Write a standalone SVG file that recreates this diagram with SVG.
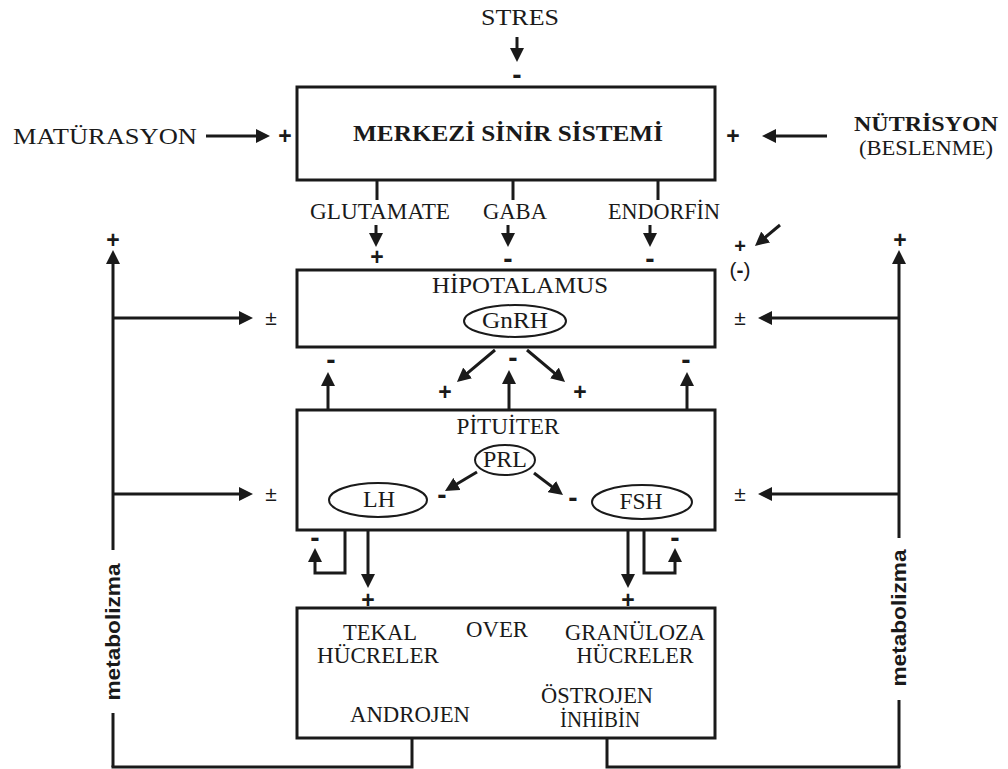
<svg xmlns="http://www.w3.org/2000/svg" width="1008" height="769" viewBox="0 0 1008 769">
<style>
.box{fill:none;stroke:#1a1a1a;stroke-width:3}
.ell{fill:none;stroke:#1a1a1a;stroke-width:2}
.ln{fill:none;stroke:#1a1a1a;stroke-width:3}
.ar{marker-end:url(#ah)}
.t{font-family:"Liberation Serif","Times New Roman",serif;font-size:23px;fill:#1a1a1a;text-anchor:middle}
.tb{font-weight:bold;font-size:24px}
.s{font-family:"Liberation Sans",Arial,sans-serif;font-weight:bold;font-size:23px;fill:#1a1a1a;text-anchor:middle}
.m{font-family:"Liberation Sans",Arial,sans-serif;font-weight:bold;font-size:28px;fill:#1a1a1a;text-anchor:middle}
.pm{font-family:"Liberation Sans",Arial,sans-serif;font-size:21px;fill:#1a1a1a;text-anchor:middle}
.meta{font-family:"Liberation Sans",Arial,sans-serif;font-weight:bold;font-size:21px;fill:#1a1a1a;text-anchor:middle}
</style>
<defs>
<marker id="ah" markerWidth="14" markerHeight="14" refX="10" refY="7" orient="auto" markerUnits="userSpaceOnUse"><path d="M0,0 L14,7 L0,14 z" fill="#1a1a1a"/></marker>
</defs>
<rect width="1008" height="769" fill="#ffffff"/>

<g id="stres">
<text class="t" x="520" y="25" textLength="78" lengthAdjust="spacingAndGlyphs">STRES</text>
</g>
<g id="maturasyon">
<text class="t" x="13" y="144" style="text-anchor:start" textLength="184" lengthAdjust="spacingAndGlyphs">MATÜRASYON</text>
</g>
<g id="nutrisyon">
<text class="t tb" x="926" y="131" style="font-size:22px" textLength="144" lengthAdjust="spacingAndGlyphs">NÜTRİSYON</text>
<text class="t" x="926" y="155" style="font-size:21px" textLength="134" lengthAdjust="spacingAndGlyphs">(BESLENME)</text>
</g>

<g id="mss">
<rect class="box" x="297" y="87" width="418" height="93"/>
<text class="t tb" x="508" y="141" textLength="310" lengthAdjust="spacingAndGlyphs">MERKEZİ SİNİR SİSTEMİ</text>
</g>

<g id="hipotalamus">
<rect class="box" x="297" y="270" width="418" height="77"/>
<text class="t" x="520" y="293" textLength="176" lengthAdjust="spacingAndGlyphs">HİPOTALAMUS</text>
<ellipse class="ell" cx="515" cy="321" rx="51" ry="16"/>
<text class="t" x="515" y="328" textLength="66" lengthAdjust="spacingAndGlyphs">GnRH</text>
</g>

<g id="pituiter">
<rect class="box" x="297" y="410" width="418" height="120"/>
<text class="t" x="508" y="434" textLength="103" lengthAdjust="spacingAndGlyphs">PİTUİTER</text>
<ellipse class="ell" cx="505" cy="460" rx="30" ry="15"/>
<text class="t" x="505" y="467" textLength="44" lengthAdjust="spacingAndGlyphs">PRL</text>
<ellipse class="ell" cx="378" cy="500" rx="49" ry="17"/>
<text class="t" x="379" y="507" textLength="32" lengthAdjust="spacingAndGlyphs">LH</text>
<ellipse class="ell" cx="642" cy="502" rx="50" ry="17"/>
<text class="t" x="641" y="509" textLength="43" lengthAdjust="spacingAndGlyphs">FSH</text>
</g>

<g id="over">
<rect class="box" x="297" y="608" width="418" height="130"/>
<text class="t" x="380" y="640" textLength="74" lengthAdjust="spacingAndGlyphs">TEKAL</text>
<text class="t" x="378" y="663" textLength="122" lengthAdjust="spacingAndGlyphs">HÜCRELER</text>
<text class="t" x="497" y="637" textLength="62" lengthAdjust="spacingAndGlyphs">OVER</text>
<text class="t" x="635" y="640" textLength="140" lengthAdjust="spacingAndGlyphs">GRANÜLOZA</text>
<text class="t" x="635" y="663" textLength="117" lengthAdjust="spacingAndGlyphs">HÜCRELER</text>
<text class="t" x="410" y="722" textLength="120" lengthAdjust="spacingAndGlyphs">ANDROJEN</text>
<text class="t" x="597" y="703" textLength="112" lengthAdjust="spacingAndGlyphs">ÖSTROJEN</text>
<text class="t" x="600" y="727" textLength="80" lengthAdjust="spacingAndGlyphs">İNHİBİN</text>
</g>

<g id="neuro-labels">
<text class="t" x="380" y="219" textLength="140" lengthAdjust="spacingAndGlyphs">GLUTAMATE</text>
<text class="t" x="515" y="219" textLength="64" lengthAdjust="spacingAndGlyphs">GABA</text>
<text class="t" x="664" y="219" textLength="112" lengthAdjust="spacingAndGlyphs">ENDORFİN</text>
</g>

<g id="metabolizma">
<text class="meta" transform="translate(120,632) rotate(-90)" textLength="137" lengthAdjust="spacingAndGlyphs">metabolizma</text>
<text class="meta" transform="translate(906,618) rotate(-90)" textLength="137" lengthAdjust="spacingAndGlyphs">metabolizma</text>
</g>

<g id="connectors">
<line class="ln ar" x1="517" y1="37" x2="517" y2="58"/>
<line class="ln ar" x1="206" y1="136" x2="266" y2="136"/>
<line class="ln ar" x1="827" y1="136" x2="766" y2="136"/>
<line class="ln" x1="377" y1="180" x2="377" y2="200"/>
<line class="ln" x1="513" y1="180" x2="513" y2="200"/>
<line class="ln" x1="658" y1="180" x2="658" y2="200"/>
<line class="ln ar" x1="376" y1="225" x2="376" y2="243"/>
<line class="ln ar" x1="508" y1="225" x2="508" y2="243"/>
<line class="ln ar" x1="650" y1="225" x2="650" y2="243"/>
<line class="ln ar" x1="780" y1="225" x2="758" y2="243.4"/>
<line class="ln ar" x1="495" y1="350" x2="460" y2="379.4"/>
<line class="ln ar" x1="527" y1="350" x2="562" y2="379.4"/>
<line class="ln ar" x1="509" y1="410" x2="509" y2="374"/>
<line class="ln ar" x1="328" y1="410" x2="328" y2="376"/>
<line class="ln ar" x1="687" y1="410" x2="687" y2="376"/>
<line class="ln ar" x1="477" y1="472" x2="448.4" y2="489"/>
<line class="ln ar" x1="534" y1="473" x2="559.8" y2="492.6"/>
<polyline class="ln ar" points="345,530 345,573 315,573 315,552"/>
<polyline class="ln ar" points="644,530 644,573 675,573 675,552"/>
<line class="ln ar" x1="368" y1="530" x2="368" y2="584"/>
<line class="ln ar" x1="628" y1="530" x2="628" y2="584"/>
<line class="ln ar" x1="113" y1="550" x2="113" y2="254"/>
<line class="ln" x1="113" y1="713" x2="113" y2="767"/>
<line class="ln ar" x1="113" y1="318" x2="249" y2="318"/>
<line class="ln ar" x1="113" y1="494" x2="249" y2="494"/>
<line class="ln ar" x1="899" y1="538" x2="899" y2="254"/>
<line class="ln" x1="899" y1="700" x2="899" y2="767"/>
<line class="ln ar" x1="899" y1="318" x2="762" y2="318"/>
<line class="ln ar" x1="899" y1="494" x2="762" y2="494"/>
<polyline class="ln" points="412,738 412,767 111.5,767"/>
<polyline class="ln" points="607,738 607,767 900.5,767"/>
</g>

<g id="signs">
<text class="m" x="517" y="84">-</text>
<text class="s" x="285" y="144">+</text>
<text class="s" x="733" y="144">+</text>
<text class="s" x="377" y="265">+</text>
<text class="m" x="508" y="268">-</text>
<text class="m" x="650" y="268">-</text>
<text class="s" x="740" y="253" style="font-size:20px">+</text>
<text class="pm" x="740" y="277">(<tspan style="font-weight:bold">-</tspan>)</text>
<text class="s" x="113" y="248">+</text>
<text class="s" x="900" y="248">+</text>
<text class="pm" x="271" y="325">±</text>
<text class="pm" x="271" y="501">±</text>
<text class="pm" x="740" y="325">±</text>
<text class="pm" x="740" y="501">±</text>
<text class="s" x="445" y="400">+</text>
<text class="s" x="580" y="400">+</text>
<text class="m" x="513" y="367">-</text>
<text class="m" x="331" y="369">-</text>
<text class="m" x="686" y="369">-</text>
<text class="m" x="442" y="504">-</text>
<text class="m" x="573" y="507">-</text>
<text class="m" x="315" y="547">-</text>
<text class="m" x="675" y="547">-</text>
<text class="s" x="368" y="608">+</text>
<text class="s" x="628" y="608">+</text>
</g>
</svg>
